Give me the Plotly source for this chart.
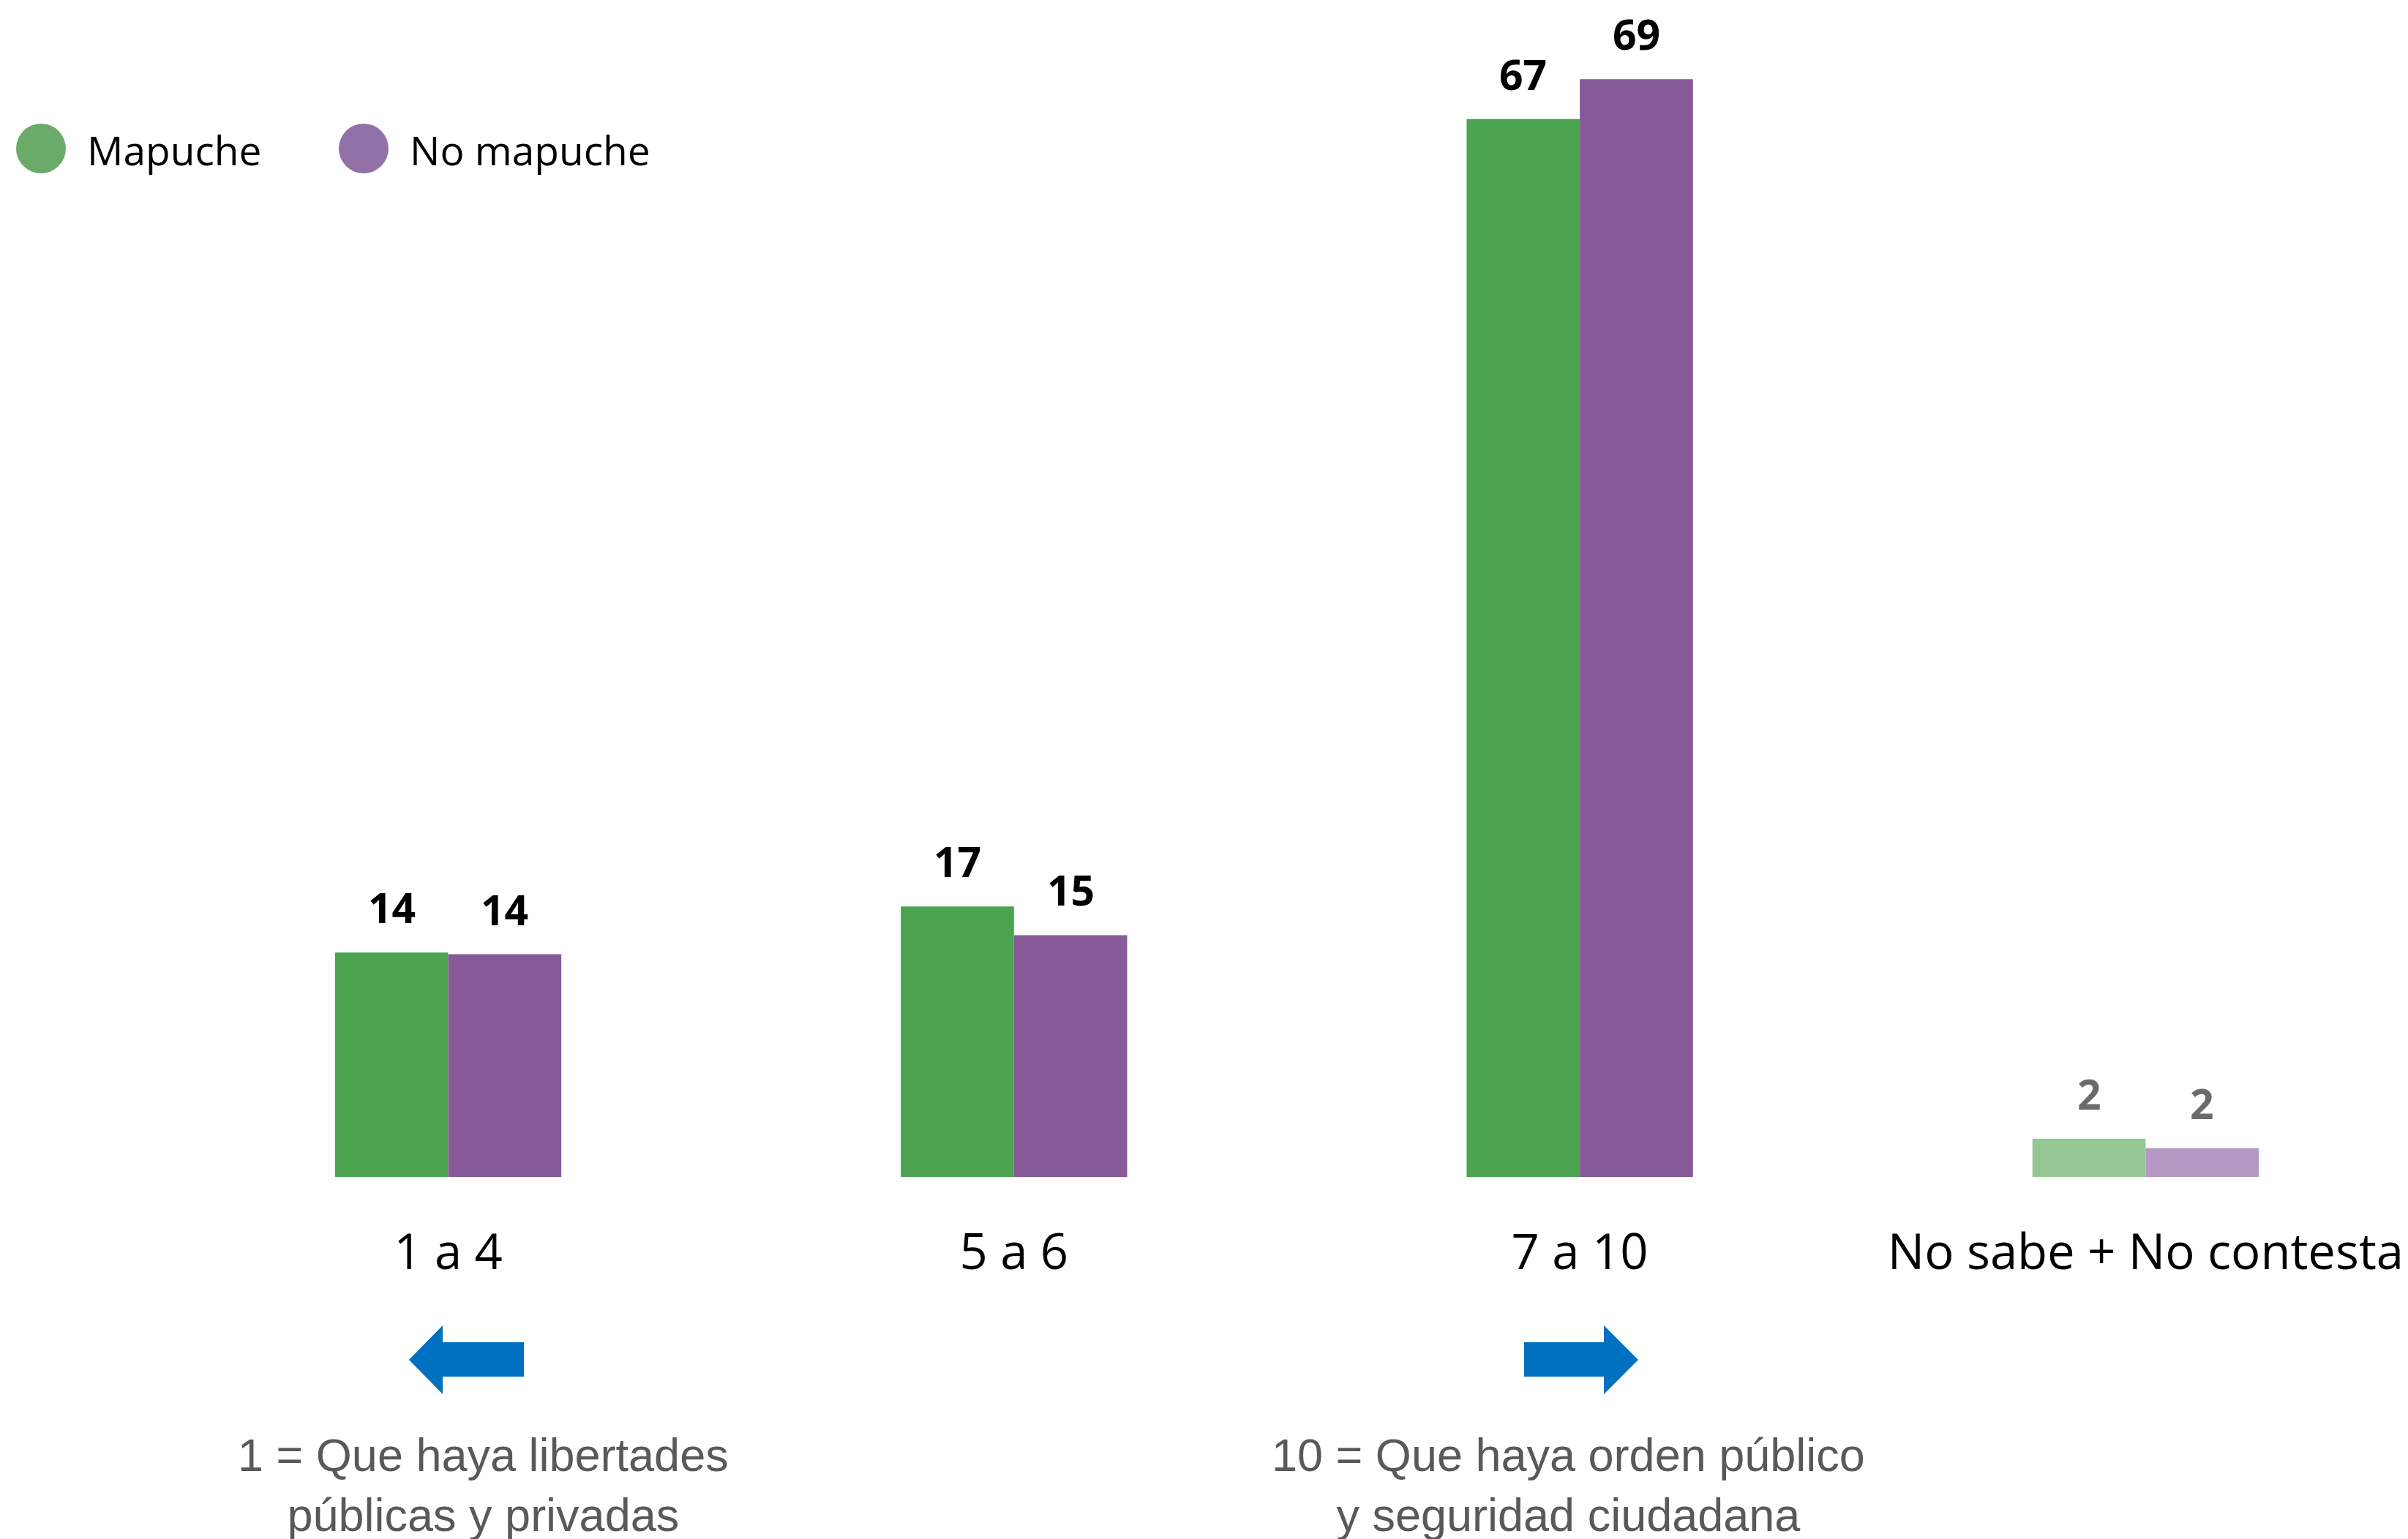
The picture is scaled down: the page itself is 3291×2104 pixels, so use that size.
import plotly.graph_objects as go

# ---------------- data ----------------
categories = ["1 a 4", "5 a 6", "7 a 10", "No sabe + No contesta"]
series_names = ["Mapuche", "No mapuche"]
mapuche = [14.1, 17.0, 66.5, 2.4]
no_mapuche = [14.0, 15.2, 69.0, 1.8]
mapuche_labels = ["14", "17", "67", "2"]
no_mapuche_labels = ["14", "15", "69", "2"]
note_left = "1 = Que haya libertades<br>públicas y privadas"
note_right = "10 = Que haya orden público<br>y seguridad ciudadana"

# ---------------- style ----------------
PAGE_OFF = 8                      # default body margin of the html page
W, H = 3291 - PAGE_OFF, 2104 - PAGE_OFF
BASE = 1609 - PAGE_OFF            # baseline (figure px)
M_B = H - BASE
PLOT_H = 1566
M_T = BASE - PLOT_H
UNIT = 773.3
CENTER0 = 612.5 - PAGE_OFF
X_RANGE = [-CENTER0 / UNIT, (W - CENTER0) / UNIT]
Y_RANGE = [0, 72]
BAR_W = 0.2

green = ["#4BA350", "#4BA350", "#4BA350", "#94C794"]
purple = ["#865998", "#865998", "#865998", "#B497C3"]
label_col = ["#000000", "#000000", "#000000", "#6B6B6B"]

fig = go.Figure()
fig.add_trace(go.Bar(x=categories, y=mapuche, name=series_names[0],
                     marker=dict(color=green, line=dict(width=0)),
                     width=BAR_W, offset=-BAR_W, showlegend=False,
                     hoverinfo="x+y"))
fig.add_trace(go.Bar(x=categories, y=no_mapuche, name=series_names[1],
                     marker=dict(color=purple, line=dict(width=0)),
                     width=BAR_W, offset=0, showlegend=False,
                     hoverinfo="x+y"))

annotations = []
for vals, labs, shift in [(mapuche, mapuche_labels, -BAR_W / 2),
                          (no_mapuche, no_mapuche_labels, BAR_W / 2)]:
    for i, (c, v, t) in enumerate(zip(categories, vals, labs)):
        annotations.append(dict(
            x=c, y=v, xref="x", yref="y", text=t, showarrow=False,
            xanchor="center", yanchor="middle",
            xshift=shift * UNIT, yshift=62,
            font=dict(family="Open Sans", size=57, color=label_col[i], weight="bold")))


def px(xp):
    return (xp - PAGE_OFF) / W


def py(yp):
    return (BASE - (yp - PAGE_OFF)) / PLOT_H


# legend (drawn as large circles + text)
legend_items = [(56, series_names[0], "#6AAB6A", 117), (497, series_names[1], "#9270A8", 558)]
shapes = []
for cx, name, col, tx in legend_items:
    r = 34
    shapes.append(dict(type="circle", xref="paper", yref="paper",
                       x0=px(cx - r), x1=px(cx + r), y0=py(203 + r), y1=py(203 - r),
                       fillcolor=col, line=dict(width=0)))
    annotations.append(dict(x=px(tx), y=py(204), xref="paper", yref="paper", text=name,
                            showarrow=False, xanchor="left", yanchor="middle",
                            font=dict(family="Open Sans", size=55, color="#000000")))


def poly(points):
    return "M " + " L ".join(f"{px(a):.5f},{py(b):.5f}" for a, b in points) + " Z"


left_arrow = [(559, 1859), (605, 1812), (605, 1835), (716, 1835), (716, 1882), (605, 1882), (605, 1906)]
right_arrow = [(2083, 1835), (2192, 1835), (2192, 1812), (2239, 1859), (2192, 1906), (2192, 1882), (2083, 1882)]
for pts in (left_arrow, right_arrow):
    shapes.append(dict(type="path", xref="paper", yref="paper", path=poly(pts),
                       fillcolor="#0070C0", line=dict(width=0)))

for xc, txt in [(660, note_left), (2143, note_right)]:
    annotations.append(dict(x=px(xc), y=py(1952), xref="paper", yref="paper", text=txt,
                            showarrow=False, xanchor="center", yanchor="top", align="center",
                            font=dict(family="Liberation Sans", size=63, color="#595959")))

fig.update_layout(
    width=W, height=H,
    margin=dict(l=0, r=0, t=M_T, b=M_B, pad=0),
    paper_bgcolor="white", plot_bgcolor="white",
    barmode="group",
    xaxis=dict(type="category", range=X_RANGE, showgrid=False, zeroline=False,
               showline=False, ticks="", ticklabelstandoff=58,
               tickfont=dict(family="Open Sans", size=67, color="#000000")),
    yaxis=dict(range=Y_RANGE, visible=False, showgrid=False, zeroline=False),
    shapes=shapes,
    annotations=annotations,
    showlegend=False,
)

fig.write_html("out.html")
